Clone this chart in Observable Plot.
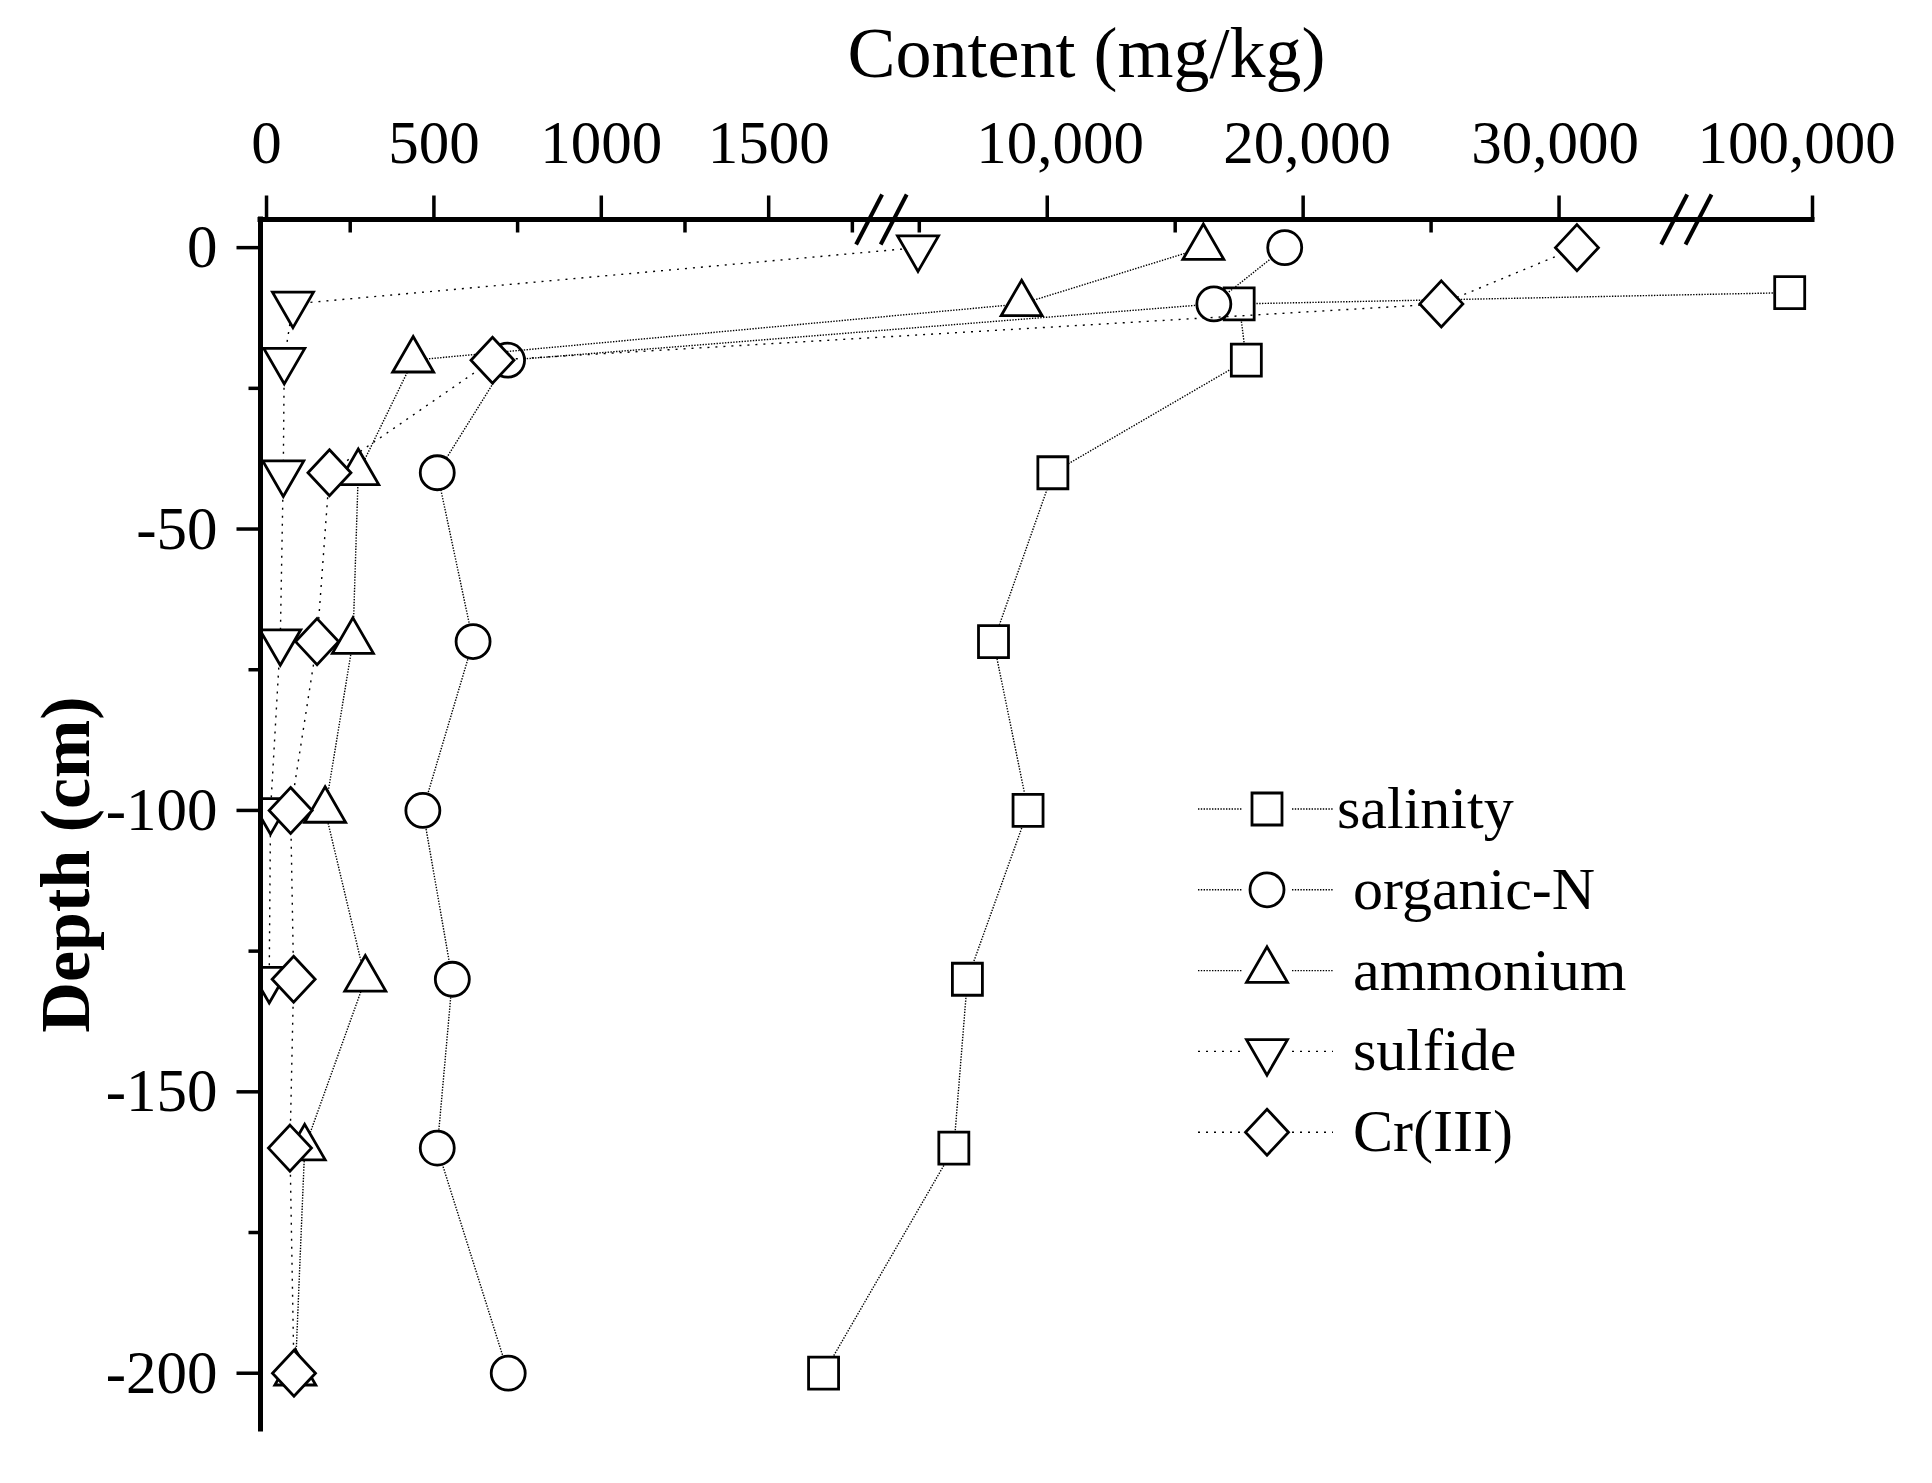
<!DOCTYPE html>
<html>
<head>
<meta charset="utf-8">
<script src="https://cdn.jsdelivr.net/npm/d3@7"></script>
<script src="https://cdn.jsdelivr.net/npm/@observablehq/plot@0.6"></script>
<style>
  body { margin: 0; background: #fff; }
  #chart svg { font-family: "Liberation Serif", "Times New Roman", serif; background: #fff; }
</style>
</head>
<body>
<div id="chart"></div>
<script>
// ---------- data ----------
const depths = [0, -10, -20, -40, -70, -100, -130, -160, -200];
const salinityDepth = [-8, -10, -20, -40, -70, -100, -130, -160, -200];
const salinity = [98000, 17500, 17780, 10220, 7900, 9250, 6880, 6350, 1664];
const organicN = [19280, 16510, 720, 510, 617, 467, 555, 510, 722];
const ammonium = [16100, 9000, 438, 274, 258, 175, 295, 114, 86];
const sulfideDepth = [0, -10, -20, -40, -70, -100, -130];
const sulfide = [4950, 79, 53, 50, 41, 12, 8];
const crIII = [30700, 25400, 675, 188, 151, 72, 81, 70, 82];

const seriesNames = ["salinity", "organic-N", "ammonium", "sulfide", "Cr(III)"];

// broken x axis: piecewise domain
const xDomain = [-18, 1800, 4000, 34500, 90000, 100000];
const axisBreaks = [1800, 4000, 34500, 90000];
const xMajorTicks = [0, 500, 1000, 1500, 10000, 20000, 30000, 100000];
const xTickLabels = ["0", "500", "1000", "1500", "10,000", "20,000", "30,000", "100,000"];
const xMinorTicks = [250, 750, 1250, 1750, 5000, 15000, 25000];
const yDomain = [-210, 5];
const yMajorTicks = [0, -50, -100, -150, -200];
const yTickLabels = ["0", "-50", "-100", "-150", "-200"];
const yMinorTicks = [-25, -75, -125, -175];
const xTitle = "Content (mg/kg)";
const yTitle = "Depth (cm)";

// ---------- symbols ----------
const sym = {
  square: {draw(c) { c.moveTo(-15, -16); c.lineTo(15, -16); c.lineTo(15, 16); c.lineTo(-15, 16); c.closePath(); }},
  circle: {draw(c) { c.moveTo(17, 0); c.arc(0, 0, 17, 0, 2 * Math.PI); c.closePath(); }},
  triUp: {draw(c) { c.moveTo(0, -23.7); c.lineTo(20.5, 11.8); c.lineTo(-20.5, 11.8); c.closePath(); }},
  triDown: {draw(c) { c.moveTo(0, 23.7); c.lineTo(20.5, -11.8); c.lineTo(-20.5, -11.8); c.closePath(); }},
  diamond: {draw(c) { c.moveTo(0, -23); c.lineTo(21.5, 0); c.lineTo(0, 23); c.lineTo(-21.5, 0); c.closePath(); }},
  slash: {draw(c) { c.moveTo(13, -25); c.lineTo(-13, 25); }},
  tickUp: {draw(c) { c.moveTo(0, 0); c.lineTo(0, -24); }},
  tickDownMinor: {draw(c) { c.moveTo(0, 0); c.lineTo(0, 13); }},
  tickLeft: {draw(c) { c.moveTo(0, 0); c.lineTo(-24, 0); }},
  tickLeftMinor: {draw(c) { c.moveTo(0, 0); c.lineTo(-12, 0); }}
};

const dense = "1.4,1.4";
const sparse = "2,6";
const series = [
  {name: seriesNames[0], depth: salinityDepth, value: salinity, symbol: sym.square, dash: dense},
  {name: seriesNames[1], depth: depths, value: organicN, symbol: sym.circle, dash: dense},
  {name: seriesNames[2], depth: depths, value: ammonium, symbol: sym.triUp, dash: dense},
  {name: seriesNames[3], depth: sulfideDepth, value: sulfide, symbol: sym.triDown, dash: sparse},
  {name: seriesNames[4], depth: depths, value: crIII, symbol: sym.diamond, dash: sparse}
];

// ---------- marks ----------
const marks = [];
for (const s of series) {
  const rows = s.value.map((v, i) => ({value: v, depth: s.depth[i], series: s.name}));
  marks.push(Plot.line(rows, {x: "value", y: "depth", stroke: "#000", strokeWidth: 1.4,
    strokeDasharray: s.dash, strokeLinecap: "butt", curve: "linear", clip: true}));
  marks.push(Plot.dot(rows, {x: "value", y: "depth", symbol: s.symbol, fill: "white",
    stroke: "#000", strokeWidth: 2.8, clip: true}));
}

// axis lines
marks.push(Plot.ruleY([yDomain[1]], {x1: xDomain[0], x2: xDomain[xDomain.length - 1], stroke: "#000", strokeWidth: 5, strokeLinecap: "square"}));
marks.push(Plot.ruleX([xDomain[0]], {y1: yDomain[0], y2: yDomain[1], stroke: "#000", strokeWidth: 5, strokeLinecap: "square"}));

// x ticks
marks.push(Plot.dot(xMajorTicks, {x: d => d, y: () => yDomain[1], symbol: sym.tickUp, stroke: "#000", strokeWidth: 3.5, fill: "none"}));
marks.push(Plot.dot(xMinorTicks, {x: d => d, y: () => yDomain[1], symbol: sym.tickDownMinor, stroke: "#000", strokeWidth: 3.5, fill: "none"}));
// axis break marks
marks.push(Plot.dot(axisBreaks, {x: d => d, y: () => yDomain[1], symbol: sym.slash, stroke: "#000", strokeWidth: 4, fill: "none"}));
// y ticks
marks.push(Plot.dot(yMajorTicks, {x: () => xDomain[0], y: d => d, symbol: sym.tickLeft, stroke: "#000", strokeWidth: 3.5, fill: "none"}));
marks.push(Plot.dot(yMinorTicks, {x: () => xDomain[0], y: d => d, symbol: sym.tickLeftMinor, stroke: "#000", strokeWidth: 3.5, fill: "none"}));

// x tick labels (upper segment labels sit slightly off their ticks in the reference)
const labelNudge = {"10,000": 13, "20,000": 4, "30,000": -4, "100,000": -16};
xMajorTicks.forEach((t, i) => {
  marks.push(Plot.text([t], {x: d => d, y: () => yDomain[1], text: () => xTickLabels[i],
    dx: labelNudge[xTickLabels[i]] || 0, dy: -76, fontSize: 61, fill: "#000",
    textAnchor: "middle", lineAnchor: "middle"}));
});
// y tick labels
marks.push(Plot.text(yMajorTicks, {x: () => xDomain[0], y: d => d, text: (d, i) => yTickLabels[i],
  dx: -43, fontSize: 61, fill: "#000", textAnchor: "end", lineAnchor: "middle"}));

// titles
marks.push(Plot.text([xTitle], {frameAnchor: "top", text: d => d, dx: 50, dy: -166, fontSize: 72,
  fill: "#000", textAnchor: "middle", lineAnchor: "middle"}));
marks.push(Plot.text([yTitle], {frameAnchor: "left", text: d => d, dx: -194, dy: 40, rotate: -90,
  fontSize: 70, fontWeight: "bold", fill: "#000", textAnchor: "middle", lineAnchor: "middle"}));

const chart = Plot.plot({
  width: 1932,
  height: 1483,
  marginLeft: 260,
  marginRight: 120,
  marginTop: 219,
  marginBottom: 54,
  x: {type: "linear", domain: xDomain, range: [260, 868.6, 893.2, 1673.7, 1698, 1812], axis: null},
  y: {domain: yDomain, range: [1429, 219], axis: null},
  marks
});
document.getElementById("chart").appendChild(chart);

// ---------- legend (inside the plot area, as in the reference) ----------
const svg = d3.select(chart);
const lg = svg.append("g").attr("class", "legend").attr("text-anchor", "start");
series.forEach((s, i) => {
  const y = 809 + i * 80.8;
  const g = lg.append("g");
  [[1198, 1242], [1292, 1333]].forEach(([a, b]) => {
    g.append("line").attr("x1", a).attr("x2", b).attr("y1", y).attr("y2", y)
      .attr("stroke", "#000").attr("stroke-width", 1.4).attr("stroke-dasharray", s.dash);
  });
  g.append("path").attr("d", d3.symbol(s.symbol)()).attr("transform", `translate(1267,${y})`)
    .attr("fill", "white").attr("stroke", "#000").attr("stroke-width", 2.8);
  g.append("text").attr("x", i === 0 ? 1337 : 1353).attr("y", y + 19)
    .attr("text-anchor", "start").attr("font-size", 60).attr("fill", "#000").text(s.name);
});
</script>
</body>
</html>
